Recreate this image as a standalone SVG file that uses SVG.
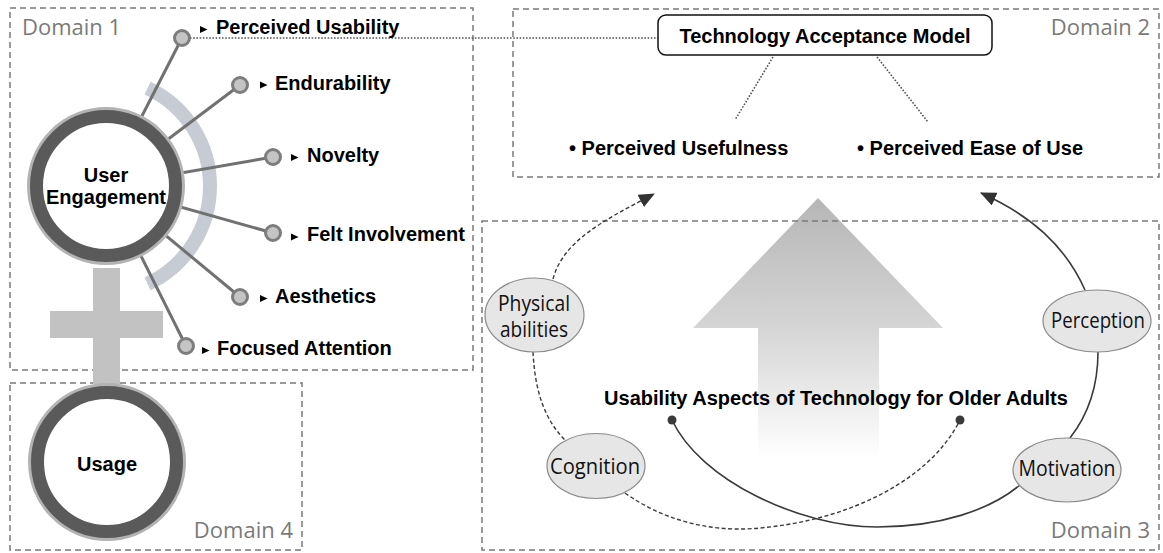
<svg xmlns="http://www.w3.org/2000/svg" xmlns:xlink="http://www.w3.org/1999/xlink" width="1163" height="553" viewBox="0 0 1163 553">
  <style>
    .domain { fill: none; stroke: #7a7a7a; stroke-width: 1.5; stroke-dasharray: 6 4; }
    .dlabel { font-family: "Open Sans", "Noto Sans", sans-serif; font-size: 22px; fill: #7a7a7a; }
    .bold { font-family: "Liberation Sans", Arial, sans-serif; font-weight: bold; font-size: 20px; fill: #000; }
    .spoke { stroke: #717171; stroke-width: 3; }
    .dot { fill: #c4c4c4; stroke: #7d7d7d; stroke-width: 3; }
    .dotted { fill: none; stroke: #555; stroke-width: 1.6; stroke-dasharray: 1.6 1.6; }
    .flow-dash { fill: none; stroke: #3a3a3a; stroke-width: 1.4; stroke-dasharray: 4 2.5; }
    .flow-solid { fill: none; stroke: #3a3a3a; stroke-width: 1.6; }
    .oval { fill: #e6e6e6; stroke: #8a8a8a; stroke-width: 1.2; }
    .otext { font-family: "Open Sans", "Noto Sans", sans-serif; font-size: 21px; fill: #111; text-anchor: middle; }
    .ring-outer { fill: none; stroke: #b3b3b3; stroke-width: 4; }
    .ring { fill: #fff; stroke: #5a5a5a; stroke-width: 13; }
  </style>
  <defs>
    <linearGradient id="upGrad" x1="0" y1="0" x2="0" y2="1">
      <stop offset="0" stop-color="#b6b6b6"/>
      <stop offset="0.5" stop-color="#d5d5d5"/>
      <stop offset="1" stop-color="#ffffff"/>
    </linearGradient>
    <marker id="head" markerUnits="userSpaceOnUse" markerWidth="16" markerHeight="14" viewBox="0 0 16 14" refX="15" refY="7" orient="auto">
      <path d="M0,0 L16,7 L0,14 z" fill="#333"/>
    </marker>
    <path id="tri" d="M0,-3.5 L7.5,0 L0,3.5 z" fill="#000"/>
  </defs>

  <!-- large upward arrow behind the usability block -->
  <polygon points="818,198 943,328 879,328 879,458 758,458 758,328 693,328" fill="url(#upGrad)"/>

  <!-- domain frames -->
  <g id="domains">
    <rect class="domain" x="10" y="8" width="463" height="362"/>
    <rect class="domain" x="513" y="9" width="646" height="168"/>
    <rect class="domain" x="482" y="221" width="677" height="329"/>
    <rect class="domain" x="10" y="383" width="292" height="167"/>
    <text class="dlabel" x="22" y="35">Domain 1</text>
    <text class="dlabel" x="1150" y="35" text-anchor="end">Domain 2</text>
    <text class="dlabel" x="1150" y="538" text-anchor="end">Domain 3</text>
    <text class="dlabel" x="293" y="538" text-anchor="end">Domain 4</text>
  </g>

  <!-- bracket arc around the engagement attributes -->
  <path d="M147.6,88.1 A108,108 0 0 1 147.6,283.9" fill="none" stroke="#c6cbd4" stroke-width="14"/>

  <!-- plus sign joining engagement and usage -->
  <g id="plus" fill="#c2c2c2">
    <rect x="93" y="268" width="27" height="116"/>
    <rect x="50" y="311" width="113" height="27"/>
  </g>

  <!-- connectors -->
  <g id="connectors">
    <line class="spoke" x1="106" y1="186" x2="182" y2="38"/>
    <line class="spoke" x1="106" y1="186" x2="240" y2="85"/>
    <line class="spoke" x1="106" y1="186" x2="273" y2="157"/>
    <line class="spoke" x1="106" y1="186" x2="273" y2="233"/>
    <line class="spoke" x1="106" y1="186" x2="240" y2="297"/>
    <line class="spoke" x1="106" y1="186" x2="186" y2="346"/>

    <line class="dotted" x1="190" y1="38" x2="658" y2="38"/>
    <line class="dotted" x1="773" y1="57" x2="735" y2="120"/>
    <line class="dotted" x1="877" y1="57" x2="928" y2="122"/>

    <path class="flow-dash" d="M553,279 C563,242 600,222 654,194" marker-end="url(#head)"/>
    <path class="flow-dash" d="M533,352 C535,392 545,420 565,440"/>
    <path class="flow-dash" d="M625,493 C670,525 720,532 760,528 C850,520 930,480 960,420"/>

    <path class="flow-solid" d="M1085,290 C1065,245 1030,215 981,193" marker-end="url(#head)"/>
    <path class="flow-solid" d="M1098,352 C1098,387 1088,415 1070,438"/>
    <path class="flow-solid" d="M1020,485 C990,510 940,527 877,527 C800,527 700,480 672,420"/>
    <circle cx="672" cy="420" r="4.5" fill="#3a3a3a"/>
    <circle cx="960" cy="420" r="4.5" fill="#3a3a3a"/>
  </g>

  <!-- Domain 1: user engagement -->
  <g id="user-engagement">
    <circle class="ring-outer" cx="106" cy="186" r="77"/>
    <circle class="ring" cx="106" cy="186" r="69.5"/>
    <text class="bold" x="106" y="182" text-anchor="middle" font-size="19">User</text>
    <text class="bold" x="106" y="204" text-anchor="middle" font-size="19">Engagement</text>
  </g>

  <g id="perceived-usability">
    <circle class="dot" cx="182" cy="38" r="7.5"/>
    <use xlink:href="#tri" x="200" y="29.5"/>
    <text class="bold" x="216" y="34">Perceived Usability</text>
  </g>
  <g id="endurability">
    <circle class="dot" cx="240" cy="85" r="7.5"/>
    <use xlink:href="#tri" x="260" y="85"/>
    <text class="bold" x="275" y="90">Endurability</text>
  </g>
  <g id="novelty">
    <circle class="dot" cx="273" cy="157" r="7.5"/>
    <use xlink:href="#tri" x="291" y="157.5"/>
    <text class="bold" x="307" y="162">Novelty</text>
  </g>
  <g id="felt-involvement">
    <circle class="dot" cx="273" cy="233" r="7.5"/>
    <use xlink:href="#tri" x="291" y="237"/>
    <text class="bold" x="307" y="241">Felt Involvement</text>
  </g>
  <g id="aesthetics">
    <circle class="dot" cx="240" cy="297" r="7.5"/>
    <use xlink:href="#tri" x="260" y="298.5"/>
    <text class="bold" x="275" y="303">Aesthetics</text>
  </g>
  <g id="focused-attention">
    <circle class="dot" cx="186" cy="346" r="7.5"/>
    <use xlink:href="#tri" x="202" y="350.5"/>
    <text class="bold" x="217" y="355">Focused Attention</text>
  </g>

  <!-- Domain 4: usage -->
  <g id="usage">
    <circle class="ring-outer" cx="107" cy="462" r="77"/>
    <circle class="ring" cx="107" cy="462" r="69.5"/>
    <text class="bold" x="107" y="471" text-anchor="middle">Usage</text>
  </g>

  <!-- Domain 2: technology acceptance model -->
  <g id="tam">
    <rect x="658" y="15" width="334" height="40" rx="8" ry="8" fill="#fff" stroke="#111" stroke-width="1.5"/>
    <text class="bold" x="825" y="43" text-anchor="middle">Technology Acceptance Model</text>
  </g>
  <g id="perceived-usefulness">
    <text class="bold" x="569" y="155">• Perceived Usefulness</text>
  </g>
  <g id="perceived-ease-of-use">
    <text class="bold" x="857" y="155">• Perceived Ease of Use</text>
  </g>

  <!-- Domain 3: usability aspects for older adults -->
  <g id="usability-aspects">
    <text class="bold" x="836" y="405" text-anchor="middle">Usability Aspects of Technology for Older Adults</text>
  </g>
  <g id="physical-abilities">
    <ellipse class="oval" cx="534.5" cy="315" rx="49.5" ry="37"/>
    <text class="otext" x="534" y="311" font-size="19" textLength="72" lengthAdjust="spacingAndGlyphs">Physical</text>
    <text class="otext" x="534" y="337" font-size="19" textLength="68" lengthAdjust="spacingAndGlyphs">abilities</text>
  </g>
  <g id="perception">
    <ellipse class="oval" cx="1097" cy="321" rx="54" ry="31"/>
    <text class="otext" x="1098" y="328" textLength="94" lengthAdjust="spacingAndGlyphs">Perception</text>
  </g>
  <g id="cognition">
    <ellipse class="oval" cx="596" cy="466" rx="49" ry="32.5"/>
    <text class="otext" x="595" y="474" textLength="90" lengthAdjust="spacingAndGlyphs">Cognition</text>
  </g>
  <g id="motivation">
    <ellipse class="oval" cx="1067" cy="470" rx="54" ry="32"/>
    <text class="otext" x="1067" y="476" textLength="97" lengthAdjust="spacingAndGlyphs">Motivation</text>
  </g>
</svg>
